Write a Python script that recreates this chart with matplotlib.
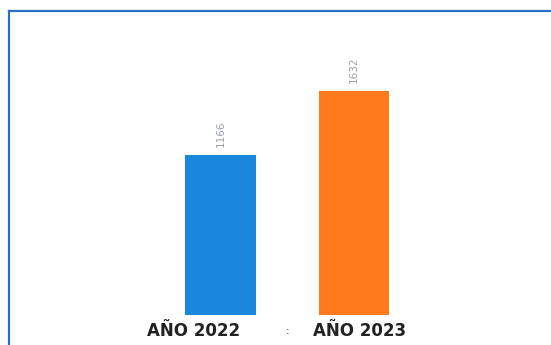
import matplotlib
matplotlib.use("Agg")
import matplotlib.pyplot as plt

categories = ["AÑO 2022", "AÑO 2023"]
values = [1166, 1632]
colors = ["#1a86dc", "#ff7a1c"]

W, H = 551, 345
fig = plt.figure(figsize=(W / 100, H / 100), dpi=100)
ax = fig.add_axes([9 / W, 0, (W - 9) / W, (H - 11) / H])

x = list(range(len(categories)))
ax.bar(x, values, width=0.53, color=colors)
ax.set_xlim(-1.584, 2.476)
ax.set_ylim(-218.6, 2215)

for xi, v in zip(x, values):
    ax.annotate(str(v), (xi, v), xytext=(0, 6), textcoords="offset points",
                rotation=90, ha="center", va="bottom", fontsize=7.5,
                color="#9aa0a8", family="DejaVu Sans")

for s in ["right", "bottom"]:
    ax.spines[s].set_visible(False)
for s in ["left", "top"]:
    ax.spines[s].set_color("#2a6fc4")
    ax.spines[s].set_linewidth(1.6)
ax.set_xticks([])
ax.set_yticks([])

# category labels below bars
label_offsets = [-0.199, 0.045]
for xi, lab, off in zip(x, categories, label_offsets):
    ax.text(xi + off, -115, lab, ha="center", va="center", fontsize=12,
            fontweight="bold", family="DejaVu Sans", color="#222222")
ax.text(0.5, -115, ":", ha="center", va="center", fontsize=8,
        family="DejaVu Sans", color="#444444")

fig.savefig("out.png", dpi=100)
